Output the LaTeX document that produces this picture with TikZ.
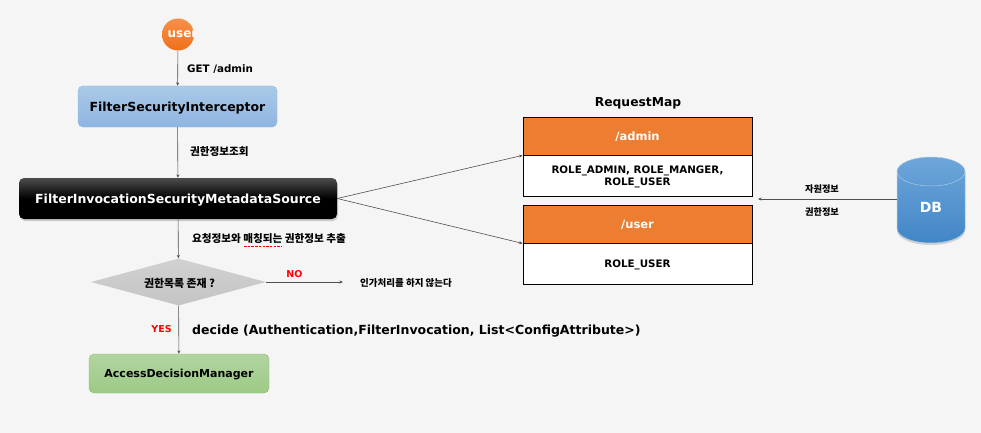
\documentclass[tikz,border=0pt]{standalone}
\usepackage{fontspec}
\setmainfont{DejaVu Sans}
\newfontfamily\krfont{Noto Sans CJK KR}
\usepackage{tikz}
\usetikzlibrary{arrows.meta,shapes.geometric,shadows}
\definecolor{pagegray}{RGB}{245,245,245}
\definecolor{rolehead}{RGB}{237,125,49}
\definecolor{linegray}{RGB}{80,80,80}
\definecolor{usertop}{RGB}{247,143,74}
\definecolor{userbot}{RGB}{240,112,26}
\definecolor{bluetop}{RGB}{170,201,232}
\definecolor{bluebot}{RGB}{143,181,225}
\definecolor{blueline}{RGB}{140,182,226}
\definecolor{greentop}{RGB}{179,212,162}
\definecolor{greenbot}{RGB}{156,202,132}
\definecolor{greenline}{RGB}{143,192,112}
\definecolor{dbtop}{RGB}{110,166,218}
\definecolor{dbbot}{RGB}{66,134,198}
\tikzset{
  flowbox/.style={rectangle,rounded corners=5pt,align=center,text depth=0pt,font=\fontsize{12.5}{15}\selectfont\bfseries},
  rolehd/.style={rectangle,draw=black,line width=0.8pt,fill=rolehead,text=white,minimum width=229pt,minimum height=38pt,inner sep=0pt,text depth=0pt,font=\fontsize{11.5}{14}\selectfont\bfseries},
  rolebd/.style={rectangle,draw=black,line width=0.8pt,fill=white,minimum width=229pt,minimum height=41pt,inner sep=0pt,align=center,text depth=0pt,font=\fontsize{10.3}{12}\selectfont\bfseries},
  link/.style={linegray,line width=0.6pt,-{Stealth[length=3.5pt,width=3pt]}},
  krlabel/.style={inner sep=0pt,font=\fontsize{10.6}{12}\krfont\bfseries},
  krsmall/.style={inner sep=0pt,font=\fontsize{9.2}{11}\krfont\bfseries},
  yesno/.style={inner sep=0pt,text=red,font=\fontsize{9.5}{12}\selectfont\bfseries}
}
\begin{document}
\begin{tikzpicture}[x=1pt,y=-1pt]
  \useasboundingbox (0,0) rectangle (981,433);
  \fill[pagegray] (0,0) rectangle (981,433);
  % left column
  \node[circle,minimum size=32pt,inner sep=0pt,top color=usertop,bottom color=userbot,
    path picture={\node[text=white,font=\fontsize{12}{14}\selectfont\bfseries] at (4.5,0) {user};}] (user) at (178,34.5) {};
  \node[flowbox,minimum width=199pt,minimum height=41pt,draw=blueline,top color=bluetop,bottom color=bluebot] (interceptor) at (177.5,106.5) {FilterSecurityInterceptor};
  \node[flowbox,minimum width=318pt,minimum height=41pt,top color=black!70,bottom color=black,middle color=black,text=white,drop shadow={opacity=0.35,shadow xshift=1pt,shadow yshift=-2pt}] (metadata) at (178,198.5) {FilterInvocationSecurityMetadataSource};
  \node[diamond,minimum width=175pt,minimum height=47pt,aspect=3.72,inner sep=0pt,top color=black!18,bottom color=black!23] (exists) at (178.5,282) {};
  \node[krlabel,font=\fontsize{10.9}{12}\krfont\bfseries] (existslabel) at (179.5,283) {권한목록 존재 ?};
  \node[flowbox,minimum width=180pt,minimum height=39pt,draw=greenline,top color=greentop,bottom color=greenbot,font=\fontsize{11}{14}\selectfont\bfseries] (manager) at (179,373.5) {AccessDecisionManager};
  \coordinate (nodeny) at (343,282);
  % left column links
  \draw[link] (user) -- (interceptor);
  \draw[link] (interceptor) -- (metadata);
  \draw[link] (metadata) -- (exists);
  \draw[link] (exists) -- (nodeny);
  \draw[link] (exists) -- (manager);
  % left column labels
  \node[inner sep=0pt,anchor=west,font=\fontsize{10.3}{12}\selectfont\bfseries] (getadmin) at (187,69.5) {GET /admin};
  \node[krlabel,anchor=west] (lookup) at (190,152) {권한정보조회};
  \node[krlabel,anchor=west] (extract) at (192,239) {요청정보와 매칭되는 권한정보 추출};
  \draw[red,dash pattern=on 2.5pt off 1.2pt,line width=1.1pt] (244,246.2) -- (282,246.2);
  \node[yesno] (no) at (294.5,274.5) {NO};
  \node[yesno] (yes) at (161.5,329.5) {YES};
  \node[krlabel,font=\fontsize{9.5}{12}\krfont\bfseries,anchor=west] (noauth) at (360,283) {인가처리를 하지 않는다};
  \node[inner sep=0pt,anchor=west,font=\fontsize{12.5}{14}\selectfont\bfseries] (decide) at (192,331) {decide (Authentication,FilterInvocation, List<ConfigAttribute>)};
  % request map
  \node[inner sep=0pt,font=\fontsize{12.3}{14}\selectfont\bfseries] (requestmap) at (638,103.5) {RequestMap};
  \node[rolehd] (adminhead) at (637.5,136) {/admin};
  \node[rolebd] (adminbody) at (637.5,175.5) {ROLE\_ADMIN, ROLE\_MANGER,\\ROLE\_USER};
  \node[rolehd] (userhead) at (637.5,224) {/user};
  \node[rolebd] (userbody) at (637.5,263.5) {ROLE\_USER};
  \draw[link] (metadata.east) -- (adminhead.south west);
  \draw[link] (metadata.east) -- (userhead.south west);
  % database
  \path[draw=dbtop!60!white,line width=0.5pt,top color=dbtop,bottom color=dbbot,drop shadow={opacity=0.3,shadow xshift=0pt,shadow yshift=-2pt}]
    (897,171.5) arc[start angle=180,end angle=0,x radius=34pt,y radius=14.5pt] -- (965,228.5)
    arc[start angle=0,end angle=-180,x radius=34pt,y radius=14.5pt] -- cycle;
  \draw[dbtop!60!white,line width=0.5pt] (897,171.5) arc[start angle=180,end angle=360,x radius=34pt,y radius=14.5pt];
  \node[inner sep=0pt,text=white,font=\fontsize{14}{16}\selectfont\bfseries] (db) at (931,207) {DB};
  \coordinate (dbedge) at (897,199);
  \coordinate (mapedge) at (758,199);
  \draw[link] (dbedge) -- (mapedge);
  \node[krsmall] (resinfo) at (822,189) {자원정보};
  \node[krsmall] (authinfo) at (822,212) {권한정보};
\end{tikzpicture}
\end{document}
